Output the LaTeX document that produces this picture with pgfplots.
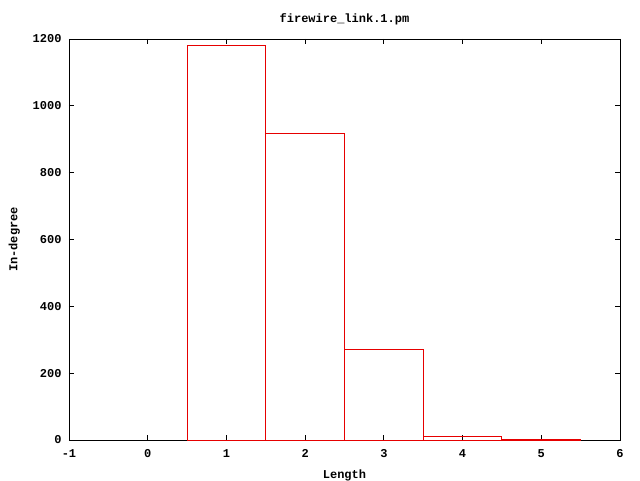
\documentclass[border=0pt]{standalone}
\usepackage{fontspec}
\setmainfont{Liberation Mono}[BoldFont={* Bold}]
\usepackage{pgfplots}
\pgfplotsset{compat=1.18}
\definecolor{gpred}{RGB}{230,0,0}
\begin{document}
\begin{tikzpicture}[x=1pt,y=1pt]
\useasboundingbox (-69,-40) rectangle (571,440);
\begin{axis}[
  at={(0,0)}, anchor=south west,
  scale only axis, width=551pt, height=401pt,
  xmin=-1, xmax=6, ymin=0, ymax=1200,
  xtick={-1,0,...,6}, ytick={0,200,...,1200},
  tick align=inside, major tick length=5pt,
  tick style={black, line width=0.8pt},
  axis line style={black, line width=0.8pt},
  every tick label/.style={black, font=\fontsize{12}{14}\selectfont\bfseries},
  /pgf/number format/assume math mode=true,
  /pgf/number format/1000 sep={},
  title={\fontsize{12}{14}\selectfont\bfseries firewire\_link.1.pm},
  title style={black, at={(0.5,1)}, anchor=south, yshift=4pt},
  xlabel={\fontsize{12}{14}\selectfont\bfseries Length},
  ylabel={\fontsize{12}{14}\selectfont\bfseries In-degree},
  xlabel style={black, yshift=-5pt},
  ylabel style={black, yshift=6pt},
  xticklabel style={yshift=-6pt},
  yticklabel style={xshift=-4pt},
]
% histogram boxes: centre 1..5, width 1, heights 1182, 918, 272, 10, 3
\addplot[gpred, line width=1pt, sharp plot, mark=none] coordinates {
(0.5,0) (0.5,1182) (1.5,1182) (1.5,0) (1.5,918) (2.5,918) (2.5,0)
(2.5,272) (3.5,272) (3.5,0) (3.5,10) (4.5,10) (4.5,0) (4.5,3) (5.5,3) (5.5,0) (0.5,0)
};
\end{axis}
\end{tikzpicture}
\end{document}
